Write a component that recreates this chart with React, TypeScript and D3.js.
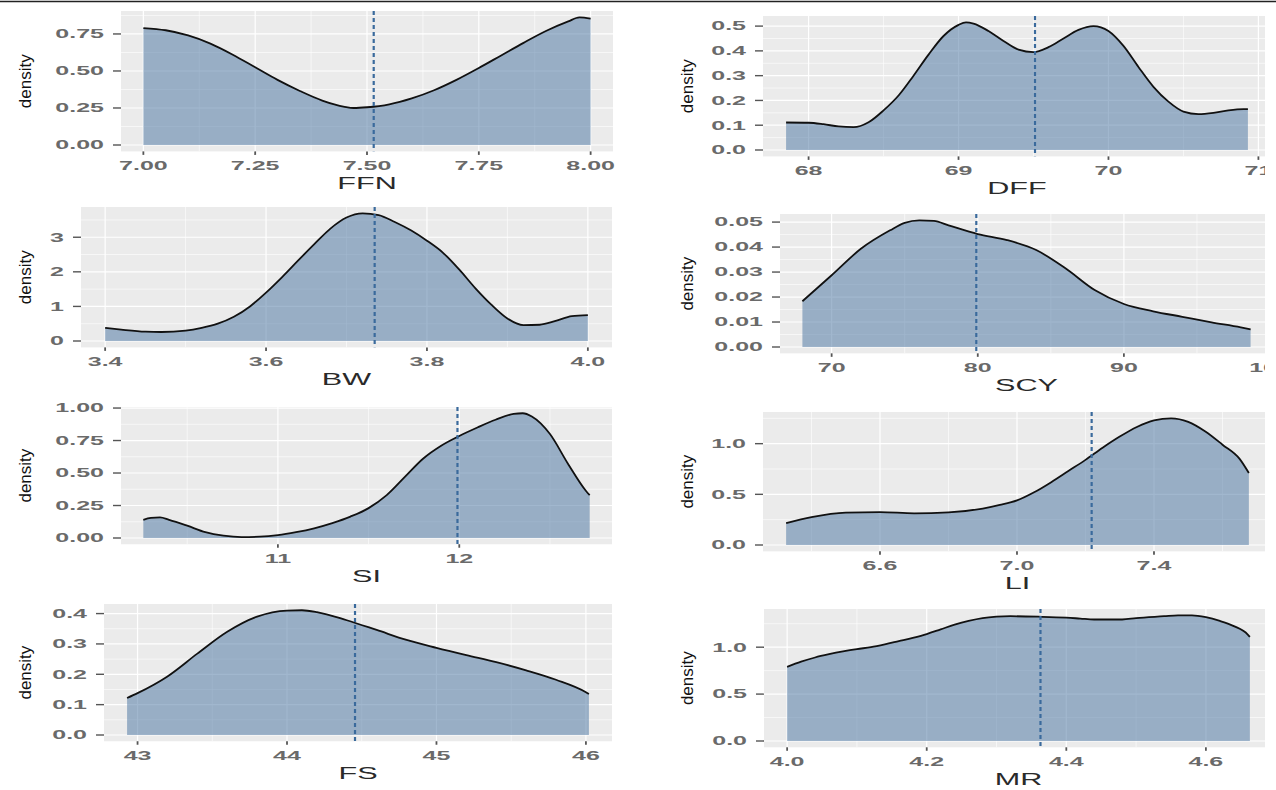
import React from "react";
import * as d3 from "d3";

// ---------- data ----------
const FFN_X = [7.0, 7.05, 7.1, 7.15, 7.2, 7.25, 7.3, 7.35, 7.4, 7.45, 7.47, 7.5, 7.55, 7.6, 7.65, 7.7, 7.75, 7.8, 7.85, 7.9, 7.95, 7.975, 8.0];
const FFN_Y = [0.79, 0.775, 0.74, 0.685, 0.61, 0.525, 0.44, 0.365, 0.3, 0.258, 0.25, 0.255, 0.275, 0.315, 0.37, 0.44, 0.52, 0.605, 0.69, 0.77, 0.835, 0.862, 0.853];
const FFN_MEAN = 7.515;
const FFN_XTICKS = [7.0, 7.25, 7.5, 7.75, 8.0];
const FFN_YTICKS = [0, 0.25, 0.5, 0.75];

const DFF_X = [67.85, 68.0, 68.1, 68.2, 68.3, 68.4, 68.5, 68.6, 68.7, 68.8, 68.9, 69.0, 69.05, 69.1, 69.2, 69.3, 69.4, 69.5, 69.6, 69.7, 69.8, 69.9, 70.0, 70.1, 70.2, 70.3, 70.4, 70.5, 70.6, 70.7, 70.8, 70.9, 70.93];
const DFF_Y = [0.111, 0.11, 0.104, 0.095, 0.092, 0.112, 0.16, 0.22, 0.3, 0.385, 0.46, 0.505, 0.515, 0.51, 0.48, 0.44, 0.405, 0.395, 0.415, 0.45, 0.485, 0.5, 0.48, 0.42, 0.335, 0.255, 0.195, 0.155, 0.145, 0.15, 0.16, 0.165, 0.165];
const DFF_MEAN = 69.51;
const DFF_XTICKS = [68, 69, 70, 71];
const DFF_YTICKS = [0, 0.1, 0.2, 0.3, 0.4, 0.5];

const BW_X = [3.4, 3.42, 3.45, 3.47, 3.5, 3.52, 3.54, 3.56, 3.58, 3.6, 3.62, 3.64, 3.66, 3.68, 3.7, 3.72, 3.74, 3.76, 3.78, 3.8, 3.82, 3.84, 3.86, 3.88, 3.9, 3.92, 3.94, 3.96, 3.98, 4.0];
const BW_Y = [0.38, 0.33, 0.27, 0.26, 0.3, 0.38, 0.5, 0.7, 1.0, 1.4, 1.85, 2.33, 2.8, 3.25, 3.57, 3.69, 3.64, 3.44, 3.2, 2.9, 2.55, 2.07, 1.53, 1.05, 0.65, 0.46, 0.47, 0.58, 0.72, 0.75];
const BW_MEAN = 3.735;
const BW_XTICKS = [3.4, 3.6, 3.8, 4.0];
const BW_YTICKS = [0, 1, 2, 3];

const SCY_X = [68.0, 70, 72, 74, 75, 76, 77, 78, 80, 82, 84, 86, 88, 90, 92, 94, 96, 98, 98.67];
const SCY_Y = [0.0183, 0.0287, 0.0393, 0.0467, 0.0497, 0.0507, 0.0505, 0.0487, 0.0452, 0.0428, 0.0388, 0.0315, 0.0228, 0.0172, 0.0143, 0.0121, 0.0099, 0.0079, 0.0071];
const SCY_MEAN = 79.9;
const SCY_XTICKS = [70, 80, 90, 100];
const SCY_YTICKS = [0, 0.01, 0.02, 0.03, 0.04, 0.05];

const SI_X = [10.258, 10.3, 10.35, 10.4, 10.5, 10.6, 10.7, 10.8, 10.9, 11.0, 11.1, 11.2, 11.3, 11.4, 11.5, 11.6, 11.7, 11.8, 11.9, 12.0, 12.1, 12.2, 12.3, 12.35, 12.4, 12.5, 12.6, 12.7, 12.719];
const SI_Y = [0.14, 0.155, 0.158, 0.14, 0.095, 0.045, 0.018, 0.007, 0.01, 0.022, 0.045, 0.075, 0.115, 0.165, 0.23, 0.33, 0.47, 0.61, 0.71, 0.785, 0.85, 0.91, 0.955, 0.96, 0.935, 0.8, 0.57, 0.36, 0.33];
const SI_MEAN = 11.99;
const SI_XTICKS = [11, 12];
const SI_YTICKS = [0, 0.25, 0.5, 0.75, 1.0];

const LI_X = [6.326, 6.4, 6.5, 6.6, 6.7, 6.8, 6.9, 6.95, 7.0, 7.05, 7.1, 7.15, 7.2, 7.25, 7.3, 7.35, 7.4, 7.45, 7.5, 7.55, 7.6, 7.65, 7.677];
const LI_Y = [0.215, 0.275, 0.32, 0.325, 0.312, 0.322, 0.36, 0.395, 0.44, 0.52, 0.62, 0.73, 0.84, 0.96, 1.07, 1.165, 1.23, 1.25, 1.215, 1.12, 0.99, 0.85, 0.71];
const LI_MEAN = 7.218;
const LI_XTICKS = [6.6, 7.0, 7.4];
const LI_YTICKS = [0, 0.5, 1.0];

const FS_X = [42.93, 43.0, 43.2, 43.4, 43.6, 43.8, 44.0, 44.1, 44.2, 44.4, 44.6, 44.8, 45.0, 45.2, 45.4, 45.6, 45.8, 46.0, 46.02];
const FS_Y = [0.122, 0.138, 0.193, 0.268, 0.34, 0.39, 0.41, 0.411, 0.405, 0.378, 0.346, 0.313, 0.287, 0.263, 0.24, 0.213, 0.182, 0.141, 0.135];
const FS_MEAN = 44.455;
const FS_XTICKS = [43, 44, 45, 46];
const FS_YTICKS = [0, 0.1, 0.2, 0.3, 0.4];

const MR_X = [4.0, 4.02, 4.04, 4.06, 4.08, 4.1, 4.12, 4.14, 4.16, 4.18, 4.2, 4.22, 4.24, 4.26, 4.28, 4.3, 4.32, 4.36, 4.4, 4.42, 4.44, 4.48, 4.5, 4.54, 4.56, 4.58, 4.6, 4.62, 4.64, 4.66, 4.663];
const MR_Y = [0.79, 0.845, 0.89, 0.925, 0.955, 0.98, 1.0, 1.03, 1.065, 1.1, 1.14, 1.19, 1.24, 1.28, 1.31, 1.325, 1.33, 1.325, 1.315, 1.305, 1.295, 1.295, 1.31, 1.33, 1.34, 1.34, 1.32, 1.28, 1.225, 1.135, 1.11];
const MR_MEAN = 4.363;
const MR_XTICKS = [4.0, 4.2, 4.4, 4.6];
const MR_YTICKS = [0, 0.5, 1.0];

// ---------- layout ----------
const W = 1276;
const H = 790;
const RIGHT_CLIP = 1265;

type Box = { left: number; right: number; top: number; zero: number };
type PanelDef = {
  name: string;
  xs: number[];
  ys: number[];
  mean: number;
  xTicks: number[];
  yTicks: number[];
  xFmt: string;
  yFmt: string;
  box: Box;
  col: number;
};

const PANELS: PanelDef[] = [
  { name: "FFN", xs: FFN_X, ys: FFN_Y, mean: FFN_MEAN, xTicks: FFN_XTICKS, yTicks: FFN_YTICKS, xFmt: ".2f", yFmt: ".2f", box: { left: 121, right: 613, top: 11, zero: 145 }, col: 0 },
  { name: "DFF", xs: DFF_X, ys: DFF_Y, mean: DFF_MEAN, xTicks: DFF_XTICKS, yTicks: DFF_YTICKS, xFmt: "d", yFmt: ".1f", box: { left: 763, right: 1271, top: 16, zero: 150 }, col: 1 },
  { name: "BW", xs: BW_X, ys: BW_Y, mean: BW_MEAN, xTicks: BW_XTICKS, yTicks: BW_YTICKS, xFmt: ".1f", yFmt: "d", box: { left: 81, right: 612, top: 207, zero: 341 }, col: 0 },
  { name: "SCY", xs: SCY_X, ys: SCY_Y, mean: SCY_MEAN, xTicks: SCY_XTICKS, yTicks: SCY_YTICKS, xFmt: "d", yFmt: ".2f", box: { left: 780, right: 1273, top: 214, zero: 347 }, col: 1 },
  { name: "SI", xs: SI_X, ys: SI_Y, mean: SI_MEAN, xTicks: SI_XTICKS, yTicks: SI_YTICKS, xFmt: "d", yFmt: ".2f", box: { left: 121, right: 612, top: 407, zero: 538 }, col: 0 },
  { name: "LI", xs: LI_X, ys: LI_Y, mean: LI_MEAN, xTicks: LI_XTICKS, yTicks: LI_YTICKS, xFmt: ".1f", yFmt: ".1f", box: { left: 763, right: 1272, top: 412, zero: 545 }, col: 1 },
  { name: "FS", xs: FS_X, ys: FS_Y, mean: FS_MEAN, xTicks: FS_XTICKS, yTicks: FS_YTICKS, xFmt: "d", yFmt: ".1f", box: { left: 104, right: 612, top: 604, zero: 735 }, col: 0 },
  { name: "MR", xs: MR_X, ys: MR_Y, mean: MR_MEAN, xTicks: MR_XTICKS, yTicks: MR_YTICKS, xFmt: ".1f", yFmt: ".1f", box: { left: 764, right: 1273, top: 609, zero: 741 }, col: 1 },
];

const FONT = "'Liberation Sans', Arial, Helvetica, sans-serif";
const SX = 2.0;

function SText(props: { x: number; y: number; anchor: string; size: number; fill: string; sx?: number; weight?: number | string; children: React.ReactNode }) {
  const { x, y, anchor, size, fill, sx = SX, weight = "normal", children } = props;
  return (
    <text
      transform={`translate(${x},${y}) scale(${sx},1)`}
      textAnchor={anchor as any}
      fontSize={size}
      fill={fill}
      fontFamily={FONT}
      fontWeight={weight as any}
      dy="0.35em"
    >
      {children}
    </text>
  );
}

function minors(ticks: number[], lo: number, hi: number): number[] {
  if (ticks.length < 2) return [];
  const step = ticks[1] - ticks[0];
  const out: number[] = [];
  const all = [ticks[0] - step, ...ticks, ticks[ticks.length - 1] + step];
  for (let i = 0; i < all.length - 1; i++) {
    const m = (all[i] + all[i + 1]) / 2;
    if (m >= lo && m <= hi) out.push(m);
  }
  return out;
}

function Panel({ p, idx }: { p: PanelDef; idx: number }) {
  const [xmin, xmax] = d3.extent(p.xs) as [number, number];
  const pad = (xmax - xmin) * 0.05;
  const ymax = d3.max(p.ys) as number;
  const yTop = ymax * 1.05;
  const yBot = -ymax * 0.05;
  const unit = (p.box.zero - p.box.top) / yTop;
  const bottom = p.box.zero - yBot * unit;
  const { left, right, top } = p.box;

  const x = d3.scaleLinear().domain([xmin - pad, xmax + pad]).range([left, right]);
  const y = d3.scaleLinear().domain([yBot, yTop]).range([bottom, top]);
  const pts: [number, number][] = p.xs.map((v, i) => [v, p.ys[i]]);

  const area = d3
    .area<[number, number]>()
    .x((d) => x(d[0]))
    .y0(y(0))
    .y1((d) => y(d[1]))
    .curve(d3.curveMonotoneX);
  const line = d3
    .line<[number, number]>()
    .x((d) => x(d[0]))
    .y((d) => y(d[1]))
    .curve(d3.curveMonotoneX);

  const [dx0, dx1] = x.domain();
  const xMajor = p.xTicks.filter((t) => t >= dx0 && t <= dx1);
  const xMinor = minors(p.xTicks, dx0, dx1);
  const yMinor = minors(p.yTicks, yBot, yTop);
  const xf = d3.format(p.xFmt);
  const yf = d3.format(p.yFmt);
  const clipId = `clip-${idx}`;
  const cx = (left + right) / 2;
  const cy = (top + bottom) / 2;
  const ytx = p.col === 0 ? 25 : 687;

  return (
    <g>
      <defs>
        <clipPath id={clipId}>
          <rect x={left} y={top} width={right - left} height={bottom - top} />
        </clipPath>
      </defs>
      <rect x={left} y={top} width={right - left} height={bottom - top} fill="#EBEBEB" />
      <g clipPath={`url(#${clipId})`}>
        {yMinor.map((t) => (
          <line key={`ym${t}`} x1={left} x2={right} y1={y(t)} y2={y(t)} stroke="#fff" strokeWidth={0.6} />
        ))}
        {xMinor.map((t) => (
          <line key={`xm${t}`} x1={x(t)} x2={x(t)} y1={top} y2={bottom} stroke="#fff" strokeWidth={0.6} />
        ))}
        {p.yTicks.map((t) => (
          <line key={`yM${t}`} x1={left} x2={right} y1={y(t)} y2={y(t)} stroke="#fff" strokeWidth={1.2} />
        ))}
        {xMajor.map((t) => (
          <line key={`xM${t}`} x1={x(t)} x2={x(t)} y1={top} y2={bottom} stroke="#fff" strokeWidth={1.2} />
        ))}
        <path d={area(pts) || ""} fill="#547CA6" fillOpacity={0.55} />
        <path d={line(pts) || ""} fill="none" stroke="#111" strokeWidth={1.8} />
        <line x1={x(p.mean)} x2={x(p.mean)} y1={top} y2={bottom} stroke="#3A6A9C" strokeWidth={2.2} strokeDasharray="4,3" />
      </g>
      {/* y axis */}
      {p.yTicks.map((t) => (
        <g key={`yt${t}`}>
          <line x1={left - 8} x2={left} y1={y(t)} y2={y(t)} stroke="#555" strokeWidth={1.4} />
          <SText x={left - 17} y={y(t)} anchor="end" size={12.5} fill="#6a6a6a" weight="bold">
            {yf(t)}
          </SText>
        </g>
      ))}
      {/* x axis */}
      {xMajor.map((t) => (
        <g key={`xt${t}`}>
          <line x1={x(t)} x2={x(t)} y1={bottom} y2={bottom + 3.5} stroke="#555" strokeWidth={1.8} />
          <SText x={x(t)} y={bottom + 14} anchor="middle" size={12.5} fill="#6a6a6a" weight="bold">
            {xf(t)}
          </SText>
        </g>
      ))}
      <SText x={cx} y={bottom + 32} anchor="middle" size={17} fill="#2a2a2a" sx={1.8}>
        {p.name}
      </SText>
      <text
        transform={`translate(${ytx},${cy}) rotate(-90)`}
        textAnchor="middle"
        fontSize={17}
        fill="#111"
        fontFamily={FONT}
        dy="0.35em"
      >
        density
      </text>
    </g>
  );
}

export default function App() {
  return (
    <svg
      width={W}
      height={H}
      viewBox={`0 0 ${W} ${H}`}
      style={{ position: "absolute", left: 0, top: 0, background: "#fff" }}
    >
      <defs>
        <clipPath id="right-col-clip">
          <rect x={0} y={0} width={RIGHT_CLIP} height={H} />
        </clipPath>
      </defs>
      <rect x={0} y={0} width={W} height={H} fill="#fff" />
      <line x1={0} x2={W} y1={1.5} y2={1.5} stroke="#222" strokeWidth={1.5} />
      {PANELS.map((p, i) =>
        p.col === 1 ? (
          <g key={p.name} clipPath="url(#right-col-clip)">
            <Panel p={p} idx={i} />
          </g>
        ) : (
          <g key={p.name}>
            <Panel p={p} idx={i} />
          </g>
        )
      )}
    </svg>
  );
}
